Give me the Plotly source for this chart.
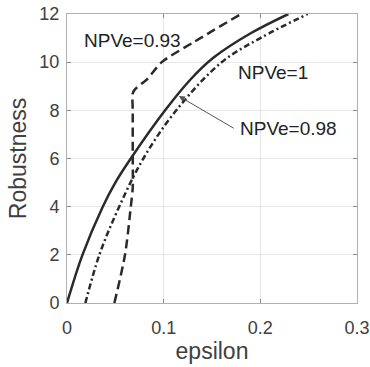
import plotly.graph_objects as go

# NPVe = 1 (solid)
eps_solid = [0, 0.016, 0.037, 0.05, 0.066, 0.1015, 0.128, 0.152, 0.19, 0.229]
rob_solid = [0, 2, 4, 5, 6, 8, 9.29, 10.2, 11.2, 12]

# NPVe = 0.98 (dash-dot)
eps_dd = [0.019, 0.0335, 0.054, 0.079, 0.113, 0.16, 0.2, 0.249]
rob_dd = [0, 2, 4, 6, 8, 10, 11.0, 12]

# NPVe = 0.93 (dashed)
eps_dash = [0.049, 0.06, 0.066, 0.068, 0.068, 0.068, 0.068, 0.0705, 0.083, 0.098, 0.131, 0.18]
rob_dash = [0, 2, 4, 4.8, 6, 8, 8.7, 8.88, 9.3, 10, 10.83, 12]

x_ticks = [0, 0.1, 0.2, 0.3]
x_tick_labels = ["0", "0.1", "0.2", "0.3"]
y_ticks = [0, 2, 4, 6, 8, 10, 12]

line_col = "#2a2a2a"
font_fam = "Liberation Sans, Arial, sans-serif"
txt_col = "#404040"

fig = go.Figure()
fig.add_trace(go.Scatter(x=eps_solid, y=rob_solid, mode="lines",
                         line=dict(color=line_col, width=2.5, shape="spline", smoothing=1.0),
                         showlegend=False))
fig.add_trace(go.Scatter(x=eps_dd, y=rob_dd, mode="lines",
                         line=dict(color=line_col, width=2.5, dash="6px,3px,2px,3px",
                                   shape="spline", smoothing=1.0),
                         showlegend=False))
fig.add_trace(go.Scatter(x=eps_dash, y=rob_dash, mode="lines",
                         line=dict(color=line_col, width=2.5, dash="9px,5px",
                                   shape="spline", smoothing=0.8),
                         showlegend=False))

ann_font = dict(family=font_fam, size=19, color="#222222")
fig.add_annotation(x=0.0158, y=10.9, xref="x", yref="y", text="NPVe=0.93",
                   showarrow=False, xanchor="left", yanchor="middle", font=ann_font)
fig.add_annotation(x=0.175, y=9.57, xref="x", yref="y", text="NPVe=1",
                   showarrow=False, xanchor="left", yanchor="middle", font=ann_font)
fig.add_annotation(x=0.177, y=7.25, xref="x", yref="y", text="NPVe=0.98",
                   showarrow=False, xanchor="left", yanchor="middle", font=ann_font)
fig.add_annotation(x=0.1157, y=8.59, ax=0.174, ay=7.22, xref="x", yref="y",
                   axref="x", ayref="y", text="", showarrow=True,
                   arrowhead=2, arrowsize=1.2, arrowwidth=1, arrowcolor="#555555")

axis_common = dict(showgrid=True, gridcolor="#e6e6e6", gridwidth=1,
                   ticks="inside", ticklen=4, tickcolor="#888888",
                   showline=True, linecolor="#b0b0b0", linewidth=1, mirror="ticks",
                   zeroline=False, automargin=False,
                   tickfont=dict(family=font_fam, size=18, color=txt_col))

fig.update_xaxes(range=[0, 0.3], tickvals=x_ticks, ticktext=x_tick_labels,
                 title=dict(text="epsilon", font=dict(family=font_fam, size=23, color=txt_col),
                            standoff=4),
                 ticklabelstandoff=8, **axis_common)
fig.update_yaxes(range=[0, 12], tickvals=y_ticks,
                 title=dict(text="Robustness", font=dict(family=font_fam, size=23, color=txt_col),
                            standoff=6),
                 ticklabelstandoff=3, **axis_common)

fig.update_layout(width=370, height=367, margin=dict(l=67, r=13, t=14, b=64),
                  plot_bgcolor="white", paper_bgcolor="white")

fig.write_html("out.html", config={"displayModeBar": False},
               post_script="document.body.style.margin='0';document.body.style.overflow='hidden';")
